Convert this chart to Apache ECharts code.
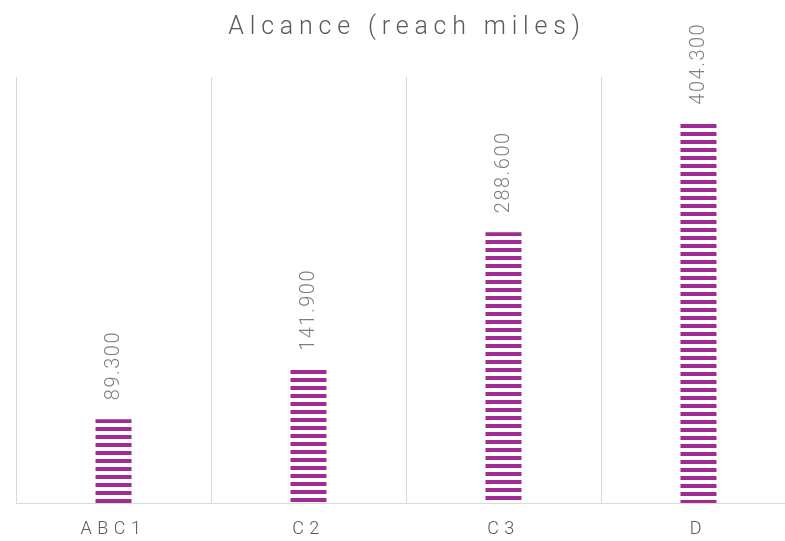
<!DOCTYPE html>
<html>
<head>
<meta charset="utf-8">
<script src="https://cdn.jsdelivr.net/npm/echarts@6/dist/echarts.min.js"></script>
<style>
  html, body { margin: 0; padding: 0; background: #fff; }
  #chart { width: 785px; height: 541px; }
</style>
</head>
<body>
<div id="chart"></div>
<script>
const categories = ["ABC1", "C2", "C3", "D"];
const reachValues = [89.3, 141.9, 288.6, 404.3];
const titleText = "Alcance (reach miles)";

// Excel-like wide letter spacing, picked by font size
const spacingBySize = { "25px": "5.8px", "18px": "5.5px", "20px": "1.5px" };
const origFillText = CanvasRenderingContext2D.prototype.fillText;
CanvasRenderingContext2D.prototype.fillText = function (text, x, y, maxW) {
  const m = /(\d+px)/.exec(this.font);
  this.letterSpacing = (m && spacingBySize[m[1]]) || "0px";
  return maxW === undefined
    ? origFillText.call(this, text, x, y)
    : origFillText.call(this, text, x, y, maxW);
};

// horizontal stripe fill, like the Excel pattern
const stripeTile = (function () {
  const c = document.createElement("canvas");
  c.width = 8;
  c.height = 8;
  const ctx = c.getContext("2d");
  ctx.fillStyle = "#A02B93";
  ctx.fillRect(0, 0, 8, 4);
  return c;
})();

function stripe(offsetY) {
  return { image: stripeTile, repeat: "repeat", x: 0, y: offsetY || 0 };
}

const chart = echarts.init(document.getElementById("chart"));
chart.setOption({
  animation: false,
  title: {
    text: titleText,
    left: 402,
    textAlign: "center",
    top: 10,
    textStyle: {
      color: "#595959",
      fontSize: 25,
      fontWeight: 300,
      fontFamily: "Roboto"
    }
  },
  grid: {
    left: 16,
    width: 780,
    top: 77,
    bottom: 38,
    outerBoundsMode: "none",
    containLabel: false
  },
  xAxis: {
    type: "category",
    data: categories,
    axisLine: { lineStyle: { color: "#d9d9d9", width: 1 } },
    axisTick: { show: false },
    splitLine: {
      show: true,
      interval: 0,
      lineStyle: { color: "#d9d9d9", width: 1 }
    },
    axisLabel: {
      margin: 17,
      color: "#595959",
      fontSize: 18,
      fontWeight: 300,
      fontFamily: "Roboto"
    }
  },
  yAxis: {
    type: "value",
    min: 0,
    max: 454,
    show: false,
    splitLine: { show: false }
  },
  series: [
    {
      type: "bar",
      data: reachValues,
      barWidth: 36,
      itemStyle: {
        color: stripe(0),
        borderWidth: 0
      },
      label: {
        show: true,
        position: "top",
        rotate: 90,
        align: "left",
        verticalAlign: "middle",
        distance: 19,
        color: "#7f7f7f",
        fontSize: 20,
        fontWeight: 300,
        fontFamily: "Roboto",
        formatter: p => p.value.toFixed(3)
      }
    }
  ]
});

// start each bar's stripes at its top edge, like Excel does
chart.setOption({
  series: [{
    data: reachValues.map((v, i) => {
      const top = chart.convertToPixel({ seriesIndex: 0 }, [i, v])[1];
      return { value: v, itemStyle: { color: stripe(Math.round(top)) } };
    })
  }]
});
</script>
</body>
</html>
